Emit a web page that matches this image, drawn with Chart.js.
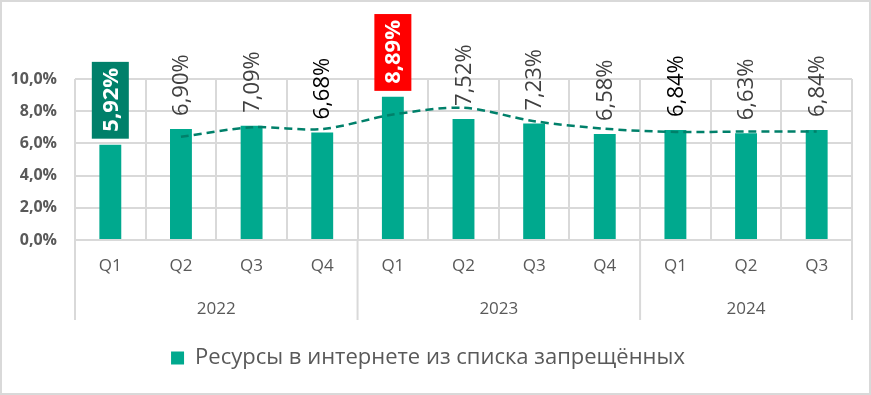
<!DOCTYPE html>
<html>
<head>
<meta charset="utf-8">
<script src="https://cdn.jsdelivr.net/npm/chart.js@4"></script>
<style>
    html, body { margin: 0; padding: 0; background: #fff; }
    #wrap { width: 871px; height: 395px; box-sizing: border-box; border: 2px solid #d9d9d9; }
</style>
</head>
<body>
<div id="wrap"><canvas id="chart"></canvas></div>
<script>
// Datos del gráfico
const quarters = ['Q1', 'Q2', 'Q3', 'Q4', 'Q1', 'Q2', 'Q3', 'Q4', 'Q1', 'Q2', 'Q3'];
const years = ['2022', '2023', '2024'];
const quartersPerYear = [4, 4, 3];
const shares = [5.92, 6.90, 7.09, 6.68, 8.89, 7.52, 7.23, 6.58, 6.84, 6.63, 6.84];
const trend = [null, 6.41, 7.00, 6.89, 7.79, 8.21, 7.38, 6.91, 6.71, 6.74, 6.74];
const yTicks = [0, 2, 4, 6, 8, 10];
const seriesName = 'Ресурсы в интернете из списка запрещённых';

const FONT = '"Open Sans", "Noto Sans", sans-serif';
const GRID = '#d9d9d9';
const AXIS_TEXT = '#595959';

// Estilos de etiquetas resaltadas
const labelStyle = {
    0: { box: '#00806a', color: '#ffffff', bold: true },
    3: { color: '#000000' },
    4: { box: '#ff0000', color: '#ffffff', bold: true },
    8: { color: '#000000' }
};

const fmtPct = v => v.toFixed(2).replace('.', ',') + '%';

// Etiquetas de valores rotadas sobre las barras
const valueLabels = {
    id: 'valueLabels',
    afterDatasetsDraw(chart) {
        const ctx = chart.ctx;
        const meta = chart.getDatasetMeta(0);
        meta.data.forEach((bar, i) => {
            const st = labelStyle[i] || {};
            const text = fmtPct(shares[i]);
            ctx.save();
            ctx.translate(bar.x, bar.y - 13);
            ctx.rotate(-Math.PI / 2);
            ctx.font = (st.bold ? 'bold ' : '') + '22px ' + FONT;
            const w = ctx.measureText(text).width;
            if (st.box) {
                ctx.fillStyle = st.box;
                ctx.fillRect(-7, -18.5, w + 13, 37);
            }
            ctx.fillStyle = st.color || '#404040';
            ctx.textAlign = 'left';
            ctx.textBaseline = 'middle';
            ctx.fillText(text, 0, 1);
            ctx.restore();
        });
    }
};

// Fila de años y separadores debajo del eje
const yearRow = {
    id: 'yearRow',
    afterDraw(chart) {
        const ctx = chart.ctx;
        const x = chart.scales.x;
        const top = chart.chartArea.bottom;
        ctx.save();
        ctx.strokeStyle = GRID;
        ctx.lineWidth = 2;
        ctx.fillStyle = AXIS_TEXT;
        ctx.font = '17px ' + FONT;
        ctx.textAlign = 'center';
        ctx.textBaseline = 'middle';
        let s = 0;
        const line = idx => {
            const px = x.getPixelForValue(idx - 0.5);
            ctx.beginPath();
            ctx.moveTo(px, top);
            ctx.lineTo(px, x.bottom);
            ctx.stroke();
        };
        line(0);
        quartersPerYear.forEach((n, i) => {
            ctx.fillText(years[i], x.getPixelForValue(s + (n - 1) / 2), top + 69);
            s += n;
            line(s);
        });
        ctx.restore();
    }
};

const chartCtx = document.getElementById('chart').getContext('2d');
window.sharesChart = new Chart(chartCtx, {
    type: 'bar',
    data: {
        labels: quarters,
        datasets: [{
            label: seriesName,
            data: shares,
            backgroundColor: '#00a98e',
            barPercentage: 0.31,
            categoryPercentage: 1,
            order: 2
        }, {
            type: 'line',
            label: 'trend',
            data: trend,
            borderColor: '#00806a',
            borderWidth: 2.5,
            borderDash: [8, 5],
            pointRadius: 0,
            tension: 0.3,
            fill: false,
            order: 1
        }]
    },
    options: {
        responsive: true,
        maintainAspectRatio: false,
        animation: false,
        layout: { padding: { top: 77, right: 17, left: 2, bottom: 14 } },
        plugins: {
            legend: {
                position: 'bottom',
                labels: {
                    filter: item => item.datasetIndex === 0,
                    boxWidth: 13,
                    boxHeight: 13,
                    padding: 27,
                    color: AXIS_TEXT,
                    font: { family: FONT, size: 22 }
                }
            },
            tooltip: { enabled: false }
        },
        scales: {
            y: {
                min: 0,
                max: 10,
                afterBuildTicks: scale => { scale.ticks = yTicks.map(v => ({ value: v })); },
                afterFit: scale => { scale.width = 71; },
                ticks: {
                    padding: 18,
                    color: AXIS_TEXT,
                    font: { family: FONT, size: 16, weight: 'bold' },
                    callback: v => v.toFixed(1).replace('.', ',') + '%'
                },
                grid: { color: GRID, lineWidth: 2, drawTicks: false },
                border: { display: false }
            },
            x: {
                afterFit: scale => { scale.height = 80; },
                ticks: {
                    padding: 16,
                    color: AXIS_TEXT,
                    font: { family: FONT, size: 17 }
                },
                grid: { color: GRID, lineWidth: 2, drawTicks: false, offset: true },
                border: { color: GRID, width: 2 }
            }
        }
    },
    plugins: [valueLabels, yearRow]
});
</script>
</body>
</html>
